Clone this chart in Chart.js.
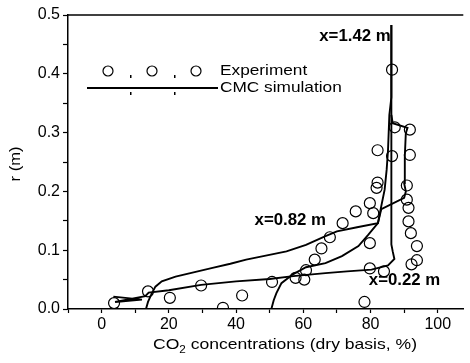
<!DOCTYPE html>
<html>
<head>
<meta charset="utf-8">
<script src="https://cdn.jsdelivr.net/npm/chart.js@4.4.1/dist/chart.umd.min.js"></script>
<style>
  html, body { margin: 0; padding: 0; background: #fff; }
  #wrap { width: 470px; height: 363px; }
</style>
</head>
<body>
<div id="wrap"><canvas id="co2Chart" width="470" height="363"></canvas></div>
<script>
// ticks
const xTicks = [-10, 0, 10, 20, 30, 40, 50, 60, 70, 80, 90, 100];
const xLabeled = [0, 20, 40, 60, 80, 100];
const yTicks = [0, 0.05, 0.1, 0.15, 0.2, 0.25, 0.3, 0.35, 0.4, 0.45, 0.5];
const yLabeled = [0, 0.1, 0.2, 0.3, 0.4, 0.5];

// experiment (open circles)
const expConc = [3.7, 13.8, 20.3, 29.6, 36.1, 41.8, 50.7, 57.7, 60.3, 60.8, 63.4, 65.4, 67.9, 71.7, 75.6,
  78.2, 79.8, 79.8, 79.8, 80.8, 81.8, 82.1, 82.1, 84.0, 86.4, 86.4, 87.2, 90.8, 90.8, 91.3, 91.3,
  91.7, 91.7, 92.0, 92.2, 93.8, 93.8];
const expR = [0.010, 0.030, 0.019, 0.040, 0.002, 0.023, 0.046, 0.053, 0.050, 0.066, 0.084, 0.103, 0.122, 0.146, 0.166,
  0.012, 0.069, 0.112, 0.180, 0.163, 0.206, 0.215, 0.270, 0.064, 0.260, 0.407, 0.309, 0.186, 0.210, 0.172, 0.149,
  0.262, 0.305, 0.129, 0.076, 0.107, 0.083];

// CMC simulation, x = 0.22 m
const sim022Conc = [3.5, 12, 4, 13, 14, 20, 29.6, 40, 50, 57, 66.6, 73, 80.3, 85.2, 87.1, 86.6, 86.2, 86.2];
const sim022R = [0.021, 0.016, 0.012, 0.022, 0.028, 0.032, 0.041, 0.047, 0.051, 0.056, 0.061, 0.064, 0.067, 0.074, 0.085, 0.098, 0.11, 0.483];

// CMC simulation, x = 0.82 m
const sim082Conc = [13.2, 13.8, 14.8, 16, 17.9, 22, 28.6, 33, 38.3, 43, 48.1, 55, 60.8, 66.6, 70, 76, 82.2, 83.2, 90, 90.5, 90, 90.2, 90.5, 91, 86.6, 86.2];
const sim082R = [0, 0.012, 0.025, 0.038, 0.047, 0.055, 0.064, 0.07, 0.077, 0.084, 0.09, 0.098, 0.109, 0.124, 0.132, 0.139, 0.146, 0.17, 0.189, 0.2, 0.214, 0.26, 0.299, 0.308, 0.316, 0.33];

// CMC simulation, x = 1.42 m
const sim142Conc = [50.5, 51.2, 52, 53.5, 56.9, 60.8, 66.6, 71.5, 76.4, 79.3, 82.2, 83.2, 84.2, 84.8, 85.2, 85.6, 86.2, 86.2];
const sim142R = [0, 0.015, 0.027, 0.044, 0.059, 0.071, 0.078, 0.09, 0.107, 0.126, 0.146, 0.175, 0.203, 0.237, 0.27, 0.33, 0.36, 0.483];

function pts(xs, ys) { return xs.map((v, i) => ({ x: v, y: ys[i] })); }

const FONT = '"Liberation Sans", Arial, sans-serif';

function lineSet(xs, ys) {
  return {
    data: pts(xs, ys), showLine: true, pointRadius: 0, borderColor: '#000',
    borderWidth: 1.9, fill: false, tension: 0
  };
}

// draw text stretched to a target width (the scan looks horizontally stretched)
function wideText(ctx, txt, x, y, font, stretch, align) {
  ctx.save();
  ctx.font = font;
  ctx.textBaseline = 'middle';
  ctx.textAlign = 'left';
  const w = ctx.measureText(txt).width * stretch;
  let x0 = x;
  if (align === 'center') x0 = x - w / 2;
  if (align === 'right') x0 = x - w;
  ctx.translate(x0, y);
  ctx.scale(stretch, 1);
  ctx.fillText(txt, 0, 0);
  ctx.restore();
  return w;
}

const decor = {
  id: 'decor',
  afterDraw(chart) {
    const ctx = chart.ctx, a = chart.chartArea;
    const xs = chart.scales.x, ys = chart.scales.y;
    ctx.save();
    ctx.fillStyle = '#000';
    ctx.strokeStyle = '#000';
    // top frame line
    ctx.lineWidth = 1.5;
    ctx.beginPath();
    ctx.moveTo(a.left, a.top);
    ctx.lineTo(a.right, a.top);
    ctx.stroke();

    // y title
    ctx.save();
    ctx.translate(16, 164);
    ctx.rotate(-Math.PI / 2);
    wideText(ctx, 'r (m)', 0, 0, '15px ' + FONT, 1.1, 'center');
    ctx.restore();

    // x title with subscript
    const f = '15px ' + FONT, fs = '10px ' + FONT, st = 1.17;
    ctx.font = f;
    const w1 = ctx.measureText('CO').width * st;
    const w3 = ctx.measureText(' concentrations (dry basis, %)').width * st;
    ctx.font = fs;
    const w2 = ctx.measureText('2').width * st;
    let xx = 285 - (w1 + w2 + w3) / 2;
    const ty = 345;
    xx += wideText(ctx, 'CO', xx, ty, f, st, 'left');
    xx += wideText(ctx, '2', xx, ty + 5, fs, st, 'left');
    wideText(ctx, ' concentrations (dry basis, %)', xx, ty, f, st, 'left');

    // curve labels
    const bf = 'bold 16px ' + FONT;
    wideText(ctx, 'x=1.42 m', xs.getPixelForValue(86), ys.getPixelForValue(0.463), bf, 1.05, 'right');
    wideText(ctx, 'x=0.82 m', xs.getPixelForValue(45.5), ys.getPixelForValue(0.150), bf, 1.05, 'left');
    wideText(ctx, 'x=0.22 m', xs.getPixelForValue(79.5), ys.getPixelForValue(0.048), bf, 1.05, 'left');

    // legend
    ctx.lineWidth = 1.2;
    [108, 152, 196].forEach(cx => {
      ctx.beginPath();
      ctx.arc(cx, 71, 5, 0, Math.PI * 2);
      ctx.stroke();
    });
    [130, 174].forEach(cx => {
      ctx.fillRect(cx, 75, 1.5, 3);
      ctx.fillRect(cx, 92, 1.5, 3);
    });
    ctx.lineWidth = 1.8;
    ctx.beginPath();
    ctx.moveTo(87, 88);
    ctx.lineTo(218, 88);
    ctx.stroke();
    wideText(ctx, 'Experiment', 220, 71, '15px ' + FONT, 1.15, 'left');
    wideText(ctx, 'CMC simulation', 220, 88, '15px ' + FONT, 1.15, 'left');
    ctx.restore();
  }
};

new Chart(document.getElementById('co2Chart').getContext('2d'), {
  type: 'scatter',
  data: {
    datasets: [
      lineSet(sim022Conc, sim022R),
      lineSet(sim082Conc, sim082R),
      lineSet(sim142Conc, sim142R),
      {
        data: pts(expConc, expR), showLine: false, pointStyle: 'circle', pointRadius: 5.5,
        borderColor: '#000', borderWidth: 1.2, backgroundColor: 'rgba(0,0,0,0)'
      }
    ]
  },
  options: {
    responsive: false,
    animation: false,
    layout: { padding: { top: 15, right: 0, left: 0, bottom: 0 } },
    plugins: { legend: { display: false }, tooltip: { enabled: false } },
    scales: {
      x: {
        type: 'linear', min: -10, max: 107.6,
        afterBuildTicks: s => { s.ticks = xTicks.map(v => ({ value: v })); },
        afterFit: s => { s.height = 54; },
        ticks: {
          autoSkip: false, maxRotation: 0, padding: 2, color: '#000',
          font: { family: FONT, size: 16 },
          callback: v => (xLabeled.includes(v) ? String(v) : '')
        },
        grid: { drawOnChartArea: false, drawTicks: true, tickLength: 4, color: '#000', tickWidth: 1.2 },
        border: { display: true, color: '#000', width: 1.5 }
      },
      y: {
        type: 'linear', min: 0, max: 0.5,
        afterBuildTicks: s => { s.ticks = yTicks.map(v => ({ value: v })); },
        afterFit: s => { s.width = 68; },
        ticks: {
          autoSkip: false, padding: 3, color: '#000',
          font: { family: FONT, size: 16 },
          callback: v => (yLabeled.some(t => Math.abs(t - v) < 1e-6) ? v.toFixed(1) : '')
        },
        grid: { drawOnChartArea: false, drawTicks: true, tickLength: 5, color: '#000', tickWidth: 1.2 },
        border: { display: true, color: '#000', width: 1.5 }
      }
    }
  },
  plugins: [decor]
});
</script>
</body>
</html>
